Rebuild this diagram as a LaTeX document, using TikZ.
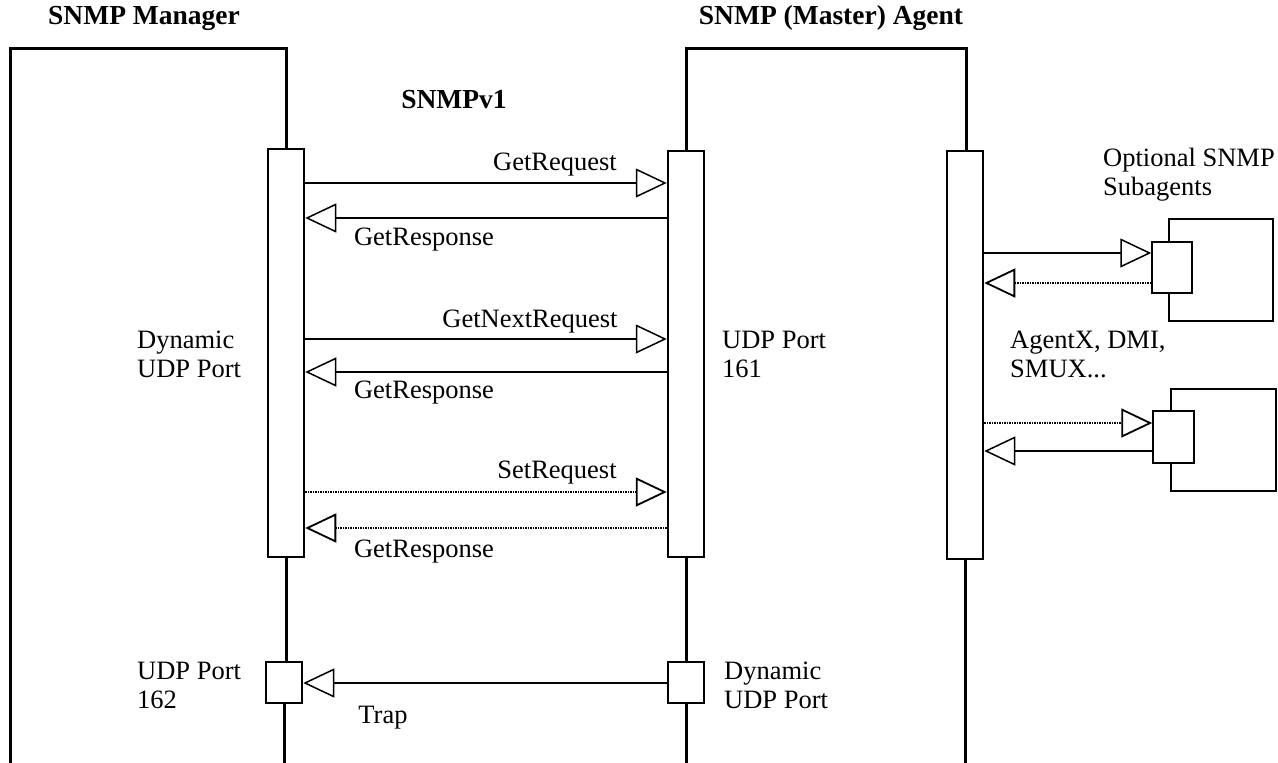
\documentclass[tikz,border=0pt]{standalone}
\usepackage{fontspec}
\setmainfont{Liberation Serif}
\usetikzlibrary{arrows.meta}
\begin{document}
\begin{tikzpicture}[x=1pt,y=-1pt,
  every node/.style={font=\fontsize{26.5}{29}\selectfont},
  life/.style={line width=3pt},
  actbox/.style={draw,line width=2.5pt,fill=white,minimum width=36pt,inner sep=0pt},
  subbox/.style={draw,line width=1.5pt,fill=white,inner sep=0pt},
  msg/.style={line width=1.5pt,-{Triangle[open,length=31pt,width=29pt]}},
  dotmsg/.style={msg,line width=1.8pt,dash pattern=on 1.5pt off 1pt},
  lbl/.style={inner sep=0pt,align=left},
  title/.style={inner sep=0pt,font=\fontsize{27.5}{29}\selectfont\bfseries}]
\useasboundingbox (0,0) rectangle (1278,763);

% titles
\node[title] (tm) at (144,18) {SNMP Manager};
\node[title] (ta) at (831,18) {SNMP (Master) Agent};
\node[title] (tv) at (454,100) {SNMPv1};

% activation boxes
\node[actbox,minimum height=408pt] (mbox) at (286,353) {};
\node[actbox,minimum height=406pt] (abox) at (686,354) {};
\node[actbox,minimum height=408pt] (sbox) at (965,355) {};
\node[actbox,minimum width=36pt,minimum height=41pt] (mport) at (284,682.5) {};
\node[actbox,minimum height=41pt] (aport) at (686,682.5) {};

% lifelines
\coordinate (mtl) at (10,48);
\coordinate (mtr) at (286,48);
\coordinate (mbot) at (10,763);
\coordinate (mend) at (284,763);
\draw[life] (mbot) -- (mtl) -- (mtr) -- (mbox.north);
\draw[life] (mbox.south) -- (mbox.south |- mport.north);
\draw[life] (mport.south) -- (mend);
\coordinate (atl) at (686,48);
\coordinate (atr) at (966,48);
\coordinate (aend) at (686,763);
\coordinate (send) at (965,763);
\draw[life] (abox.north) -- (atl) -- (atr) -- (atr |- sbox.north);
\draw[life] (abox.south) -- (aport.north);
\draw[life] (aport.south) -- (aend);
\draw[life] (sbox.south) -- (send);

% subagents
\node[subbox,minimum width=104pt,minimum height=102pt] (big1) at (1221,270) {};
\node[subbox,minimum width=40pt,minimum height=51pt] (sub1) at (1172,267.5) {};
\node[subbox,minimum width=105pt,minimum height=102pt] (big2) at (1223.5,440) {};
\node[subbox,minimum width=41pt,minimum height=52pt] (sub2) at (1173.5,437) {};

% y levels
\coordinate (y1) at (0,183);
\coordinate (y2) at (0,218);
\coordinate (y3) at (0,339);
\coordinate (y4) at (0,372);
\coordinate (y5) at (0,492);
\coordinate (y6) at (0,528);
\coordinate (y7) at (0,683);
\coordinate (s1) at (0,253);
\coordinate (s2) at (0,283);
\coordinate (s3) at (0,423);
\coordinate (s4) at (0,451);

% messages
\draw[msg] (mbox.east |- y1) -- (abox.west |- y1);
\draw[msg] (abox.west |- y2) -- (mbox.east |- y2);
\draw[msg] (mbox.east |- y3) -- (abox.west |- y3);
\draw[msg] (abox.west |- y4) -- (mbox.east |- y4);
\draw[dotmsg] (mbox.east |- y5) -- (abox.west |- y5);
\draw[dotmsg] (abox.west |- y6) -- (mbox.east |- y6);
\draw[msg] (aport.west |- y7) -- (mport.east |- y7);
\draw[msg] (sbox.east |- s1) -- (sub1.west |- s1);
\draw[dotmsg] (sub1.west |- s2) -- (sbox.east |- s2);
\draw[dotmsg] (sbox.east |- s3) -- (sub2.west |- s3);
\draw[msg] (sub2.west |- s4) -- (sbox.east |- s4);

% labels
\node[lbl] (l1) at (555,165) {GetRequest};
\node[lbl] (l2) at (424,240) {GetResponse};
\node[lbl] (l3) at (530,322) {GetNextRequest};
\node[lbl] (l4) at (424,393) {GetResponse};
\node[lbl] (l5) at (557,473) {SetRequest};
\node[lbl] (l6) at (424,552) {GetResponse};
\node[lbl] (l7) at (383,718) {Trap};

\node[lbl,anchor=west] (dyn1) at (137,354) {Dynamic\\UDP Port};
\node[lbl,anchor=west] (p161) at (722,354) {UDP Port\\161};
\node[lbl,anchor=west] (p162) at (137,685) {UDP Port\\162};
\node[lbl,anchor=west] (dyn2) at (724,685) {Dynamic\\UDP Port};
\node[lbl,anchor=west] (opt) at (1103,175) {Optional SNMP\\Subagents};
\node[lbl,anchor=west] (agx) at (1010,354) {AgentX, DMI,\\SMUX...};
\end{tikzpicture}
\end{document}
